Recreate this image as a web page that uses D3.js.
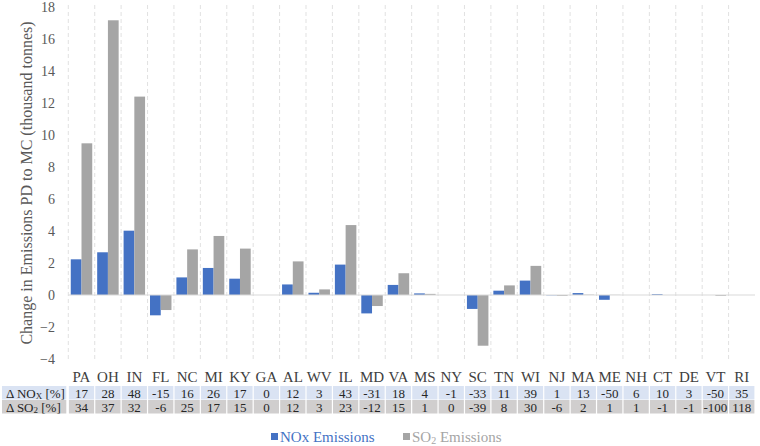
<!DOCTYPE html>
<html><head><meta charset="utf-8">
<script src="https://cdn.jsdelivr.net/npm/d3@7/dist/d3.min.js"></script>
<style>body{margin:0;background:#fff}svg{display:block}svg text{font-family:"Liberation Serif","Times New Roman",serif}</style>
</head><body><svg id="c" width="760" height="446"></svg>
<script>
const states = ["PA","OH","IN","FL","NC","MI","KY","GA","AL","WV","IL","MD","VA","MS","NY","SC","TN","WI","NJ","MA","ME","NH","CT","DE","VT","RI"];
const noxEmissions = [2.23,2.67,4.02,-1.27,1.10,1.69,1.02,0,0.66,0.14,1.90,-1.15,0.63,0.10,0,-0.87,0.27,0.90,-0.02,0.12,-0.30,0,0.05,0,0,0];
const so2Emissions = [9.48,17.17,12.4,-0.94,2.85,3.69,2.90,0,2.10,0.35,4.37,-0.69,1.36,0.07,0,-3.17,0.60,1.82,-0.05,0.02,0.01,0,0,0,-0.05,0];
const noxPct = ["17","28","48","-15","16","26","17","0","12","3","43","-31","18","4","-1","-33","11","39","1","13","-50","6","10","3","-50","35"];
const so2Pct = ["34","37","32","-6","25","17","15","0","12","3","23","-12","15","1","0","-39","8","30","-6","2","1","1","-1","-1","-100","118"];
const yTicks = [-4,-2,0,2,4,6,8,10,12,14,16,18];
const seriesKeys = ["nox","so2"];
const seriesColors = {nox:"#4472c4", so2:"#a5a5a5"};

const svg = d3.select("#c");
const x = d3.scaleBand().domain(states).range([68.3, 755]).padding(0);
const y = d3.scaleLinear().domain([-4, 18]).range([359, 7]);
const x1 = d3.scaleBand().domain(seriesKeys).range([0, x.bandwidth()]).paddingInner(0).paddingOuter(0.23);

// vertical dashed gridlines at category boundaries
svg.append("g").selectAll("line").data(states).join("line")
  .attr("x1", d => x(d)).attr("x2", d => x(d))
  .attr("y1", y(18) - 2).attr("y2", y(-4))
  .attr("stroke", "#d9d9d9").attr("stroke-width", 0.8).attr("stroke-dasharray", "4,3");

// y axis labels
const yAxis = d3.axisLeft(y).tickValues(yTicks).tickSize(0).tickPadding(0);
const ya = svg.append("g").attr("transform", "translate(55,0)").call(yAxis);
ya.select(".domain").remove();
ya.selectAll("text").attr("font-size", 14).attr("fill", "#595959");

// y title
svg.append("text").attr("transform", "translate(26," + y(7) + ") rotate(-90)")
  .attr("text-anchor", "middle").attr("dominant-baseline", "central")
  .attr("font-size", 16).attr("fill", "#595959")
  .text("Change in Emissions PD to MC (thousand tonnes)");

// bars
const data = states.map((s, i) => ({s, nox: noxEmissions[i], so2: so2Emissions[i]}));
const g = svg.append("g");
data.forEach(d => {
  seriesKeys.forEach(k => {
    const v = d[k];
    if (v === 0) return;
    g.append("rect")
      .attr("x", x(d.s) + x1(k)).attr("width", x1.bandwidth())
      .attr("y", y(Math.max(0, v))).attr("height", Math.abs(y(v) - y(0)))
      .attr("fill", seriesColors[k]);
  });
});

// zero line
svg.append("line").attr("x1", 68.3).attr("x2", 755).attr("y1", y(0)).attr("y2", y(0))
  .attr("stroke", "#d9d9d9").attr("stroke-width", 1);

// category labels
svg.append("g").selectAll("text").data(states).join("text")
  .attr("x", d => x(d) + x.bandwidth() / 2).attr("y", 377)
  .attr("text-anchor", "middle").attr("dominant-baseline", "central")
  .attr("font-size", 15).attr("fill", "#404040").text(d => d);

// table
const rows = [
  {vals: noxPct, fill: "#dae3f3", y0: 386, sub: "X", main: "\u0394 NO"},
  {vals: so2Pct, fill: "#d0cece", y0: 400, sub: "2", main: "\u0394 SO"}
];
const rowH = 13.5;
rows.forEach(r => {
  svg.append("rect").attr("x", 2).attr("y", r.y0).attr("width", 66.3 - 2).attr("height", rowH).attr("fill", r.fill);
  const t = svg.append("text").attr("x", 6).attr("y", r.y0 + rowH / 2 + 0.5).attr("dominant-baseline", "central")
    .attr("font-size", 13).attr("fill", "#262626");
  t.append("tspan").text(r.main);
  t.append("tspan").attr("font-size", 9).attr("dy", 2.5).text(r.sub);
  t.append("tspan").attr("dy", -2.5).text(" [%]");
  svg.append("g").selectAll("rect").data(states).join("rect")
    .attr("x", d => x(d) + 0.6).attr("y", r.y0).attr("width", x.bandwidth() - 1.2).attr("height", rowH)
    .attr("fill", r.fill);
  svg.append("g").selectAll("text").data(states).join("text")
    .attr("x", d => x(d) + x.bandwidth() / 2).attr("y", r.y0 + rowH / 2 + 0.5)
    .attr("text-anchor", "middle").attr("dominant-baseline", "central")
    .attr("font-size", 13).attr("fill", "#262626").text((d, i) => r.vals[i]);
});

// legend
const lg = svg.append("g");
lg.append("rect").attr("x", 271).attr("y", 433).attr("width", 7).attr("height", 7).attr("fill", seriesColors.nox);
lg.append("text").attr("x", 280).attr("y", 437).attr("dominant-baseline", "central")
  .attr("font-size", 15).attr("fill", "#4472c4").text("NOx Emissions");
lg.append("rect").attr("x", 403).attr("y", 433).attr("width", 7).attr("height", 7).attr("fill", seriesColors.so2);
const lt = lg.append("text").attr("x", 412).attr("y", 437).attr("dominant-baseline", "central")
  .attr("font-size", 15).attr("fill", "#a5a5a5");
lt.append("tspan").text("SO");
lt.append("tspan").attr("font-size", 10).attr("dy", 3).text("2");
lt.append("tspan").attr("dy", -3).text(" Emissions");
</script></body></html>
